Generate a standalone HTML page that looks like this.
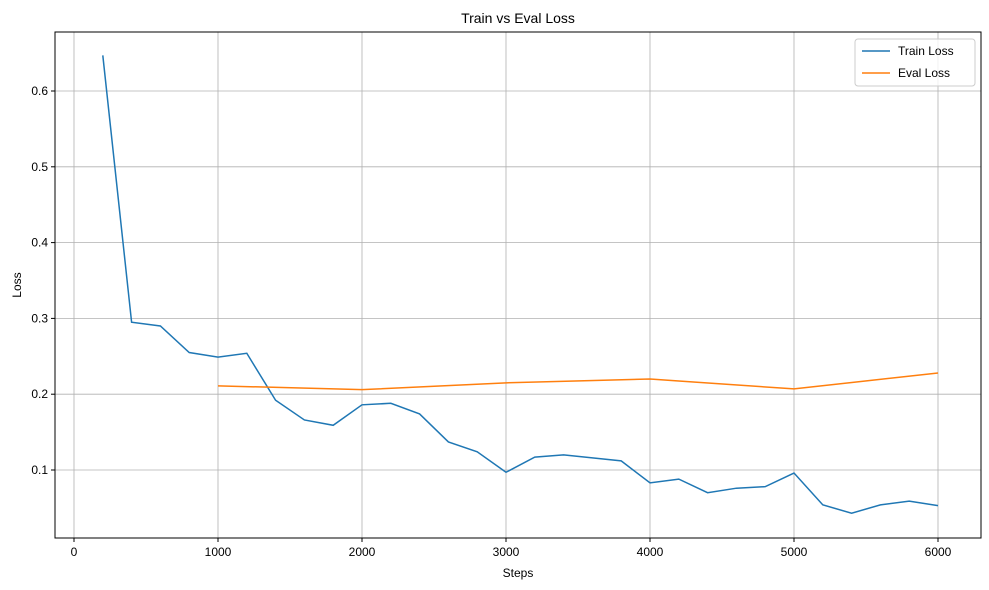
<!DOCTYPE html>
<html><head><meta charset="utf-8"><style>
body{margin:0;background:#fff;}
svg{display:block;font-family:"Liberation Sans","DejaVu Sans",sans-serif;}
</style></head><body>
<svg id="chart" width="989" height="590">
<rect width="989" height="590" fill="#fff"/>
<text x="518" y="23" font-size="14" text-anchor="middle">Train vs Eval Loss</text>
<g id="grid"></g><g id="ticks"></g><g id="series"></g>
<rect x="55" y="32" width="926" height="506" fill="none" stroke="#000" stroke-width="1"/>
<text x="518" y="577" font-size="12" text-anchor="middle">Steps</text>
<text x="21" y="285" font-size="12" text-anchor="middle" transform="rotate(-90 21 285)">Loss</text>
<g>
<rect x="855" y="39" width="120" height="47" rx="3" fill="#fff" fill-opacity="0.8" stroke="#ccc"/>
<line x1="862" y1="51" x2="890" y2="51" stroke="#1f77b4" stroke-width="1.5"/>
<text x="898" y="55" font-size="12">Train Loss</text>
<line x1="862" y1="73" x2="890" y2="73" stroke="#ff7f0e" stroke-width="1.5"/>
<text x="898" y="77" font-size="12">Eval Loss</text>
</g>
</svg>
<script>
const trainSteps=[200,400,600,800,1000,1200,1400,1600,1800,2000,2200,2400,2600,2800,3000,3200,3400,3600,3800,4000,4200,4400,4600,4800,5000,5200,5400,5600,5800,6000];
const trainLoss=[0.647,0.295,0.290,0.255,0.249,0.254,0.192,0.166,0.159,0.186,0.188,0.174,0.137,0.124,0.097,0.117,0.120,0.116,0.112,0.083,0.088,0.070,0.076,0.078,0.096,0.054,0.043,0.054,0.059,0.053];
const evalSteps=[1000,2000,3000,4000,5000,6000];
const evalLoss=[0.211,0.206,0.215,0.220,0.207,0.228];
const xTicks=[0,1000,2000,3000,4000,5000,6000];
const yTicks=[0.1,0.2,0.3,0.4,0.5,0.6];
const NS="http://www.w3.org/2000/svg";
const X=v=>74+v*0.144;
const Y=v=>545.8-v*758;
const grid=document.getElementById('grid'),ticks=document.getElementById('ticks'),series=document.getElementById('series');
function mk(tag,attrs,parent){const e=document.createElementNS(NS,tag);for(const k in attrs)e.setAttribute(k,attrs[k]);parent.appendChild(e);return e;}
xTicks.forEach(t=>{
  const gl=mk('line',{x1:X(t),x2:X(t),y1:32,y2:538,stroke:'#b0b0b0','stroke-width':0.8},grid);
  
  
  mk('line',{x1:X(t),x2:X(t),y1:538,y2:542,stroke:'#000'},ticks);
  const tx=mk('text',{x:X(t),y:556,'font-size':12,'text-anchor':'middle'},ticks);
  tx.textContent=t;
  
  
});
yTicks.forEach(t=>{
  const gl=mk('line',{x1:55,x2:981,y1:Y(t),y2:Y(t),stroke:'#b0b0b0','stroke-width':0.8},grid);
  
  
  mk('line',{x1:51,x2:55,y1:Y(t),y2:Y(t),stroke:'#000'},ticks);
  const tx=mk('text',{x:48,y:Y(t)+4,'font-size':12,'text-anchor':'end'},ticks);
  tx.textContent=t.toFixed(1);
  
  
});
const tl=mk('polyline',{points:trainSteps.map((s,i)=>X(s)+','+Y(trainLoss[i])).join(' '),fill:'none',stroke:'#1f77b4','stroke-width':1.5},series);


const el=mk('polyline',{points:evalSteps.map((s,i)=>X(s)+','+Y(evalLoss[i])).join(' '),fill:'none',stroke:'#ff7f0e','stroke-width':1.5},series);


</script>
</body></html>
